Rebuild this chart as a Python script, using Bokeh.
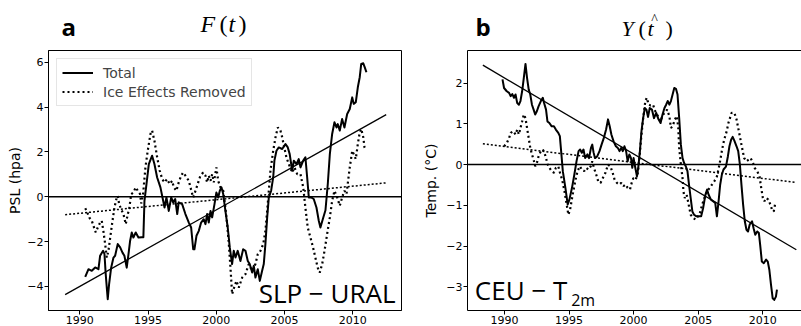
from bokeh.plotting import figure
from bokeh.models import (Range1d, Span, Label, Legend, LegendItem, LinearAxis,
                          CustomJSTickFormatter, FixedTicker)
from bokeh.layouts import row, column
from bokeh.embed import file_html
from bokeh.resources import INLINE

# ---------------- data: panel a (SLP - URAL) ----------------
a_total_years = [1990.40, 1990.64, 1990.88, 1991.13, 1991.37, 1991.49, 1991.71, 1991.81, 1991.90, 1991.98,
                 1992.05, 1992.15, 1992.30, 1992.47, 1992.59, 1992.78, 1992.96, 1993.13, 1993.27, 1993.44,
                 1993.57, 1993.69, 1993.81, 1993.93, 1994.10, 1994.30, 1994.54, 1994.66, 1994.74, 1994.89,
                 1995.06, 1995.30, 1995.47, 1995.67, 1995.91, 1996.11, 1996.21, 1996.35, 1996.52, 1996.70,
                 1996.84, 1996.99, 1997.14, 1997.25, 1997.50, 1997.74, 1997.99, 1998.16, 1998.31, 1998.40,
                 1998.55, 1998.72, 1998.89, 1999.08, 1999.21, 1999.33, 1999.45, 1999.58, 1999.70, 1999.87,
                 2000.01, 2000.14, 2000.26, 2000.38, 2000.51, 2000.67, 2000.84, 2000.99, 2001.16, 2001.28,
                 2001.41, 2001.57, 2001.77, 2001.97, 2002.14, 2002.31, 2002.45, 2002.63, 2002.75, 2002.87,
                 2003.04, 2003.19, 2003.36, 2003.48, 2003.60, 2003.73, 2003.85, 2004.02, 2004.17, 2004.26,
                 2004.41, 2004.58, 2004.83, 2005.07, 2005.24, 2005.38, 2005.56, 2005.68, 2005.88, 2006.04,
                 2006.17, 2006.37, 2006.53, 2006.66, 2006.78, 2006.95, 2007.14, 2007.34, 2007.51, 2007.63,
                 2007.83, 2008.00, 2008.17, 2008.32, 2008.49, 2008.66, 2008.81, 2008.90, 2009.05, 2009.22,
                 2009.39, 2009.59, 2009.78, 2009.96, 2010.07, 2010.22, 2010.37, 2010.51, 2010.62, 2010.77,
                 2010.88, 2011.00]
a_total_vals = [-3.57, -3.23, -3.30, -3.15, -3.23, -2.63, -2.41, -2.55, -3.44, -4.05,
                -4.57, -3.89, -3.16, -2.71, -2.63, -2.11, -2.26, -2.49, -2.63, -3.16,
                -2.56, -1.96, -1.59, -1.82, -1.59, -1.82, -1.80, -1.80, -0.18, 0.57,
                1.46, 1.83, 1.46, 0.86, 0.42, -0.18, -0.48, -0.03, -0.63, -0.03,
                -0.25, -0.10, -0.77, -0.25, -0.33, -0.77, -1.15, -1.37, -2.34, -2.34,
                -1.74, -1.52, -1.15, -1.00, -1.22, -0.77, -1.15, -0.63, -0.92, -0.33,
                0.19, -0.03, 0.27, 0.42, 0.12, -0.63, -1.37, -2.26, -3.00, -2.41,
                -2.71, -2.41, -2.86, -2.34, -2.41, -2.86, -3.00, -3.38, -3.08, -3.60,
                -3.23, -3.75, -3.30, -3.00, -2.11, -0.92, -0.03, 0.27, 0.86, 1.61,
                2.05, 2.20, 2.13, 2.35, 2.20, 1.90, 1.16, 1.61, 1.46, 1.68,
                1.31, 1.61, 1.76, 0.86, -0.03, -0.03, -0.10, -0.48, -1.07, -1.37,
                -0.95, -0.60, 0.57, 1.90, 2.80, 3.32, 3.09, 3.24, 2.95, 3.47,
                3.09, 3.69, 3.91, 4.43, 4.14, 4.21, 4.88, 5.33, 5.92, 5.95,
                5.77, 5.55]

a_ice_years = [1990.40, 1990.51, 1990.69, 1990.88, 1991.00, 1991.17, 1991.32, 1991.49, 1991.61, 1991.73,
               1991.86, 1991.98, 1992.10, 1992.23, 1992.40, 1992.54, 1992.71, 1992.78, 1992.89, 1993.03,
               1993.20, 1993.37, 1993.52, 1993.62, 1993.77, 1993.93, 1994.10, 1994.25, 1994.42, 1994.50,
               1994.64, 1994.81, 1994.98, 1995.18, 1995.30, 1995.47, 1995.67, 1995.86, 1996.04, 1996.21,
               1996.40, 1996.59, 1996.77, 1996.89, 1997.08, 1997.25, 1997.43, 1997.57, 1997.74, 1997.99,
               1998.11, 1998.31, 1998.48, 1998.64, 1998.84, 1999.04, 1999.21, 1999.33, 1999.45, 1999.58,
               1999.70, 1999.82, 2000.01, 2000.14, 2000.31, 2000.51, 2000.67, 2000.80, 2000.92, 2001.04,
               2001.16, 2001.28, 2001.48, 2001.65, 2001.90, 2002.14, 2002.38, 2002.63, 2002.87, 2003.04,
               2003.24, 2003.44, 2003.60, 2003.73, 2003.85, 2003.97, 2004.17, 2004.34, 2004.51, 2004.70,
               2004.83, 2004.95, 2005.14, 2005.31, 2005.56, 2005.73, 2005.93, 2006.17, 2006.37, 2006.53,
               2006.70, 2006.90, 2007.09, 2007.26, 2007.43, 2007.58, 2007.76, 2007.93, 2008.12, 2008.32,
               2008.49, 2008.66, 2008.86, 2009.05, 2009.22, 2009.39, 2009.54, 2009.63, 2009.78, 2009.96,
               2010.07, 2010.22, 2010.37, 2010.51, 2010.62, 2010.77, 2010.86, 2010.93]
a_ice_vals = [-0.51, -0.63, -0.92, -1.07, -1.29, -1.59, -1.37, -1.15, -1.07, -1.52,
              -2.11, -2.71, -2.41, -1.82, -1.07, -0.48, -0.03, 0.04, -0.33, -0.55,
              -0.77, -1.22, -0.77, -0.55, 0.12, 0.19, 0.42, 0.27, 0.12, -0.30,
              0.12, 1.31, 2.05, 2.80, 2.95, 2.50, 1.76, 1.16, 0.79, 0.64,
              0.79, 0.57, 0.71, 0.42, 0.27, 0.64, 0.94, 1.08, 0.94, 0.71,
              0.42, -0.03, 0.27, 0.57, 0.94, 1.08, 0.94, 0.64, 0.94, 0.71,
              1.01, 0.64, 1.31, 0.71, 0.42, 0.27, -0.48, -1.22, -2.11, -3.16,
              -4.34, -4.10, -3.75, -4.05, -3.60, -3.45, -3.00, -3.30, -3.00, -2.56,
              -2.41, -2.11, -1.52, -0.63, 0.27, 1.16, 2.05, 2.65, 3.09, 2.95,
              2.65, 2.28, 1.76, 1.46, 1.08, 1.31, 1.01, 1.01, 0.42, -0.48,
              -1.37, -1.82, -2.26, -2.71, -3.16, -3.38, -3.00, -2.41, -1.67, -0.92,
              -0.18, 0.27, -0.03, -0.40, -0.03, 0.27, 0.12, 0.57, 1.31, 2.05,
              1.90, 1.68, 2.35, 2.87, 3.02, 2.65, 2.20, 2.13]

a_trend_years = [1988.93, 2012.45]
a_trend_total = [-4.36, 3.66]
a_trend_ice = [-0.80, 0.62]

# ---------------- data: panel b (CEU - T2m) ----------------
b_total_years = [1989.85, 1989.97, 1990.18, 1990.36, 1990.48, 1990.61, 1990.74, 1990.86, 1990.99, 1991.12,
                 1991.24, 1991.37, 1991.50, 1991.63, 1991.75, 1991.88, 1992.00, 1992.13, 1992.26, 1992.38,
                 1992.51, 1992.64, 1992.82, 1992.97, 1993.07, 1993.22, 1993.33, 1993.48, 1993.66, 1993.83,
                 1993.98, 1994.17, 1994.29, 1994.39, 1994.52, 1994.72, 1994.90, 1995.03, 1995.23, 1995.41,
                 1995.58, 1995.74, 1995.86, 1995.99, 1996.12, 1996.25, 1996.42, 1996.55, 1996.70, 1996.80,
                 1996.90, 1997.01, 1997.18, 1997.36, 1997.52, 1997.69, 1997.87, 1998.02, 1998.15, 1998.28,
                 1998.45, 1998.63, 1998.78, 1998.91, 1999.04, 1999.16, 1999.29, 1999.42, 1999.54, 1999.67,
                 1999.80, 1999.90, 2000.00, 2000.11, 2000.26, 2000.36, 2000.49, 2000.61, 2000.74, 2000.87,
                 2000.99, 2001.12, 2001.25, 2001.42, 2001.58, 2001.75, 2001.93, 2002.09, 2002.24, 2002.39,
                 2002.52, 2002.64, 2002.77, 2002.89, 2003.02, 2003.15, 2003.28, 2003.40, 2003.53, 2003.66,
                 2003.79, 2003.91, 2004.04, 2004.17, 2004.29, 2004.42, 2004.55, 2004.68, 2004.87, 2005.06,
                 2005.23, 2005.38, 2005.56, 2005.69, 2005.81, 2005.99, 2006.15, 2006.32, 2006.45, 2006.58,
                 2006.70, 2006.83, 2006.96, 2007.15, 2007.30, 2007.42, 2007.55, 2007.67, 2007.80, 2007.97,
                 2008.10, 2008.23, 2008.35, 2008.48, 2008.61, 2008.74, 2008.86, 2008.99, 2009.17, 2009.29,
                 2009.42, 2009.57, 2009.70, 2009.80, 2009.93, 2010.08, 2010.26, 2010.39, 2010.51, 2010.64,
                 2010.77, 2010.89, 2011.02, 2011.10]
b_total_vals = [2.09, 1.88, 1.80, 1.76, 1.68, 1.73, 1.64, 1.72, 1.51, 1.47,
                1.56, 1.80, 2.13, 2.47, 2.13, 1.84, 1.72, 1.47, 1.35, 1.23,
                1.31, 1.43, 1.56, 1.64, 1.51, 1.35, 1.06, 1.02, 0.94, 0.94,
                0.86, 0.78, 0.70, 0.33, -0.16, -0.57, -0.98, -0.86, -0.57, -0.25,
                0.08, 0.33, 0.37, 0.29, 0.37, 0.16, 0.25, 0.16, 0.41, 0.49,
                0.30, 0.16, 0.20, 0.33, 0.49, 0.65, 0.86, 1.11, 0.94, 0.74,
                0.57, 0.45, 0.41, 0.33, 0.41, 0.33, 0.45, 0.33, 0.08, 0.25,
                0.16, -0.08, 0.16, -0.04, -0.29, -0.08, 0.33, 0.82, 1.14, 1.39,
                1.35, 1.17, 1.39, 1.35, 1.14, 1.27, 1.11, 1.02, 1.23, 1.39,
                1.47, 1.56, 1.47, 1.56, 1.72, 1.88, 1.86, 1.72, 1.14, 0.49,
                0.16, 0.04, -0.04, -0.16, -0.49, -0.82, -1.15, -1.23, -1.27, -1.27,
                -1.27, -1.07, -0.74, -0.61, -0.74, -0.86, -0.90, -0.94, -1.27, -0.90,
                -0.50, -0.25, -0.12, -0.05, 0.20, 0.45, 0.61, 0.68, 0.59, 0.45,
                0.33, 0.00, -0.49, -0.98, -1.39, -1.60, -1.64, -1.47, -1.39, -1.56,
                -1.72, -1.64, -1.68, -1.97, -2.38, -2.42, -2.33, -2.38, -2.58, -2.95,
                -3.28, -3.32, -3.24, -3.07]

b_ice_years = [1989.98, 1990.18, 1990.36, 1990.48, 1990.69, 1990.86, 1990.99, 1991.12, 1991.24, 1991.37,
               1991.50, 1991.63, 1991.75, 1991.88, 1992.00, 1992.13, 1992.26, 1992.38, 1992.51, 1992.64,
               1992.82, 1992.97, 1993.10, 1993.22, 1993.35, 1993.48, 1993.66, 1993.83, 1993.98, 1994.17,
               1994.34, 1994.47, 1994.65, 1994.82, 1994.95, 1995.08, 1995.28, 1995.48, 1995.66, 1995.84,
               1995.99, 1996.17, 1996.34, 1996.50, 1996.68, 1996.80, 1996.93, 1997.11, 1997.26, 1997.44,
               1997.62, 1997.82, 1998.02, 1998.20, 1998.38, 1998.53, 1998.71, 1998.89, 1999.04, 1999.21,
               1999.39, 1999.54, 1999.72, 1999.85, 1999.98, 2000.15, 2000.31, 2000.43, 2000.56, 2000.74,
               2000.91, 2001.02, 2001.17, 2001.32, 2001.50, 2001.68, 2001.88, 2002.09, 2002.26, 2002.44,
               2002.59, 2002.77, 2002.89, 2003.02, 2003.20, 2003.35, 2003.46, 2003.53, 2003.66, 2003.79,
               2003.86, 2003.96, 2004.11, 2004.29, 2004.42, 2004.62, 2004.80, 2004.98, 2005.13, 2005.31,
               2005.48, 2005.69, 2005.89, 2006.07, 2006.25, 2006.45, 2006.65, 2006.83, 2007.01, 2007.21,
               2007.34, 2007.59, 2007.80, 2007.97, 2008.15, 2008.35, 2008.56, 2008.74, 2008.91, 2009.06,
               2009.25, 2009.37, 2009.57, 2009.75, 2009.88, 2010.01, 2010.13, 2010.26, 2010.43, 2010.59,
               2010.72, 2010.85, 2010.95]
b_ice_vals = [0.45, 0.53, 0.65, 0.78, 0.82, 0.74, 0.86, 0.74, 0.90, 1.06,
              1.23, 1.14, 0.90, 0.65, 0.41, 0.25, 0.12, -0.04, 0.04, 0.20,
              0.33, 0.37, 0.29, 0.16, 0.00, -0.08, -0.16, -0.20, -0.08, -0.04,
              -0.25, -0.37, -0.66, -0.98, -1.23, -1.11, -0.74, -0.41, -0.16, -0.04,
              -0.12, -0.16, -0.08, -0.12, -0.04, 0.08, -0.08, -0.25, -0.41, -0.45,
              -0.33, -0.20, 0.00, -0.04, -0.20, -0.37, -0.45, -0.49, -0.45, -0.53,
              -0.49, -0.57, -0.61, -0.45, -0.33, -0.37, -0.25, 0.08, 0.57, 1.14,
              1.56, 1.64, 1.47, 1.45, 1.47, 1.31, 1.19, 1.06, 1.23, 1.27,
              1.35, 1.19, 0.90, 0.94, 1.11, 1.19, 0.90, 0.41, 0.00, -0.33,
              -0.66, -0.82, -0.74, -1.02, -1.23, -1.31, -1.35, -1.27, -1.19, -0.98,
              -0.82, -0.66, -0.57, -0.49, -0.41, -0.29, 0.00, 0.33, 0.61, 0.82,
              1.02, 1.27, 1.27, 1.11, 0.82, 0.49, 0.16, 0.08, 0.12, 0.16,
              0.04, -0.08, -0.16, -0.29, -0.57, -0.82, -0.90, -0.82, -0.86, -0.98,
              -1.11, -1.15, -0.98]

b_trend_years = [1988.33, 2012.60]
b_trend_total = [2.44, -2.09]
b_trend_ice = [0.51, -0.44]

x_ticks = [1990, 1995, 2000, 2005, 2010]
a_y_ticks = [-4, -2, 0, 2, 4, 6]
b_y_ticks = [-3, -2, -1, 0, 1, 2]

TICK_FONT = "DejaVu Sans"
MATH_FONT = "Liberation Serif"
minus_fmt = "return (tick < 0 ? '\\u2212' : '') + Math.abs(tick);"

HEAD_H = 46      # header strip holding panel letters and titles
MAIN_H = 280


def style_axes(p, yticks, ylabel, label_standoff):
    p.xaxis.ticker = FixedTicker(ticks=x_ticks)
    p.yaxis.ticker = FixedTicker(ticks=yticks)
    p.yaxis.formatter = CustomJSTickFormatter(code=minus_fmt)
    for ax in (p.xaxis, p.yaxis):
        ax.major_tick_out = 4
        ax.major_tick_in = 0
        ax.minor_tick_out = 0
        ax.minor_tick_in = 0
        ax.major_label_standoff = 1
        ax.major_label_text_font = TICK_FONT
        ax.major_label_text_font_size = "11px"
        ax.major_label_text_color = "black"
        ax.axis_line_color = "black"
        ax.major_tick_line_color = "black"
    p.yaxis.axis_label = ylabel
    p.yaxis.axis_label_text_font = TICK_FONT
    p.yaxis.axis_label_text_font_size = "14px"
    p.yaxis.axis_label_text_font_style = "normal"
    p.yaxis.axis_label_text_color = "black"
    p.yaxis.axis_label_standoff = label_standoff
    p.xgrid.visible = False
    p.ygrid.visible = False


def draw_series(p, ty, tv, iy, iv, try_, trt, tri):
    r_tot = p.line(ty, tv, line_color="black", line_width=2, line_join="round")
    r_ice = p.line(iy, iv, line_color="black", line_width=2.2, line_dash="2 3")
    p.line(try_, trt, line_color="black", line_width=1.3)
    p.line(try_, tri, line_color="black", line_width=1.5, line_dash="2 2")
    p.add_layout(Span(location=0, dimension="width", line_color="black", line_width=1.5))
    return r_tot, r_ice


def txt(p, x, y, s, font, size, style="normal", align="left"):
    p.add_layout(Label(x=x, y=y, text=s, text_font=font, text_font_size=size,
                       text_font_style=style, text_color="black",
                       text_baseline="middle", text_align=align))


# ---------------- header strip (panel letters + titles) ----------------
head = figure(width=801, height=HEAD_H, output_backend="svg", toolbar_location=None,
              x_range=Range1d(0, 801), y_range=Range1d(HEAD_H, 0),
              x_axis_type=None, y_axis_type=None,
              min_border_left=0, min_border_right=0, min_border_top=0, min_border_bottom=0)
head.outline_line_color = None
head.xgrid.visible = False
head.ygrid.visible = False
txt(head, 61, 25.7, "a", "Open Sans", "24px", "bold")
txt(head, 475, 25.7, "b", "Open Sans", "24px", "bold")
# F(t): italic letters, upright parentheses (math style)
txt(head, 200, 23.4, "F", MATH_FONT, "24px", "italic")
txt(head, 219, 23.4, "(", MATH_FONT, "24px")
txt(head, 228, 23.4, "t", MATH_FONT, "24px", "italic")
txt(head, 238, 23.4, ")", MATH_FONT, "24px")
# Y-hat(t): slightly lower baseline, hat above the t
txt(head, 621, 27.6, "Y", MATH_FONT, "22px", "italic")
txt(head, 638, 27.6, "(", MATH_FONT, "22px")
txt(head, 647, 27.6, "t", MATH_FONT, "22px", "italic")
txt(head, 665, 27.6, ")", MATH_FONT, "22px")
txt(head, 654, 19, "^", MATH_FONT, "14px", "normal", "center")

# ---------------- panel a ----------------
xa0, xa1 = 1987.71, 2013.57
ya0, ya1 = -5.07, 6.52
pa = figure(width=420, height=MAIN_H, output_backend="svg", toolbar_location=None,
            x_range=Range1d(xa0, xa1), y_range=Range1d(ya0, ya1),
            min_border_left=48, min_border_right=19, min_border_top=4, min_border_bottom=16)
pa.outline_line_color = "black"
pa.outline_line_width = 1
style_axes(pa, a_y_ticks, "PSL (hpa)", 1)
ra_tot, ra_ice = draw_series(pa, a_total_years, a_total_vals, a_ice_years, a_ice_vals,
                             a_trend_years, a_trend_total, a_trend_ice)

legend = Legend(items=[LegendItem(label="Total", renderers=[ra_tot]),
                       LegendItem(label="Ice Effects Removed", renderers=[ra_ice])],
                location="top_left", label_text_font=TICK_FONT, label_text_font_size="14px",
                glyph_width=31, glyph_height=17, label_height=17, label_standoff=10,
                spacing=2, padding=5, margin=8, border_line_color="#cccccc",
                border_line_width=1, background_fill_alpha=0.8)
pa.add_layout(legend)

sx_a = (xa1 - xa0) / 353.0
sy_a = (ya1 - ya0) / 260.0
txt(pa, xa0 + 347 * sx_a, ya0 + 17.1 * sy_a, "SLP \u2212 URAL", "Open Sans", "26px", align="right")

# ---------------- panel b ----------------
xb0, xb1 = 1987.14, 2013.0
yb0, yb1 = -3.58, 2.80
pb = figure(width=381, height=MAIN_H, output_backend="svg", toolbar_location=None,
            x_range=Range1d(xb0, xb1), y_range=Range1d(yb0, yb1),
            min_border_left=41, min_border_right=0, min_border_top=4, min_border_bottom=16)
pb.outline_line_color = None
style_axes(pb, b_y_ticks, "Temp. (\u00b0C)", 4)
top_axis = LinearAxis(ticker=FixedTicker(ticks=[]), major_label_text_font_size="0px",
                      major_tick_out=0, major_tick_in=0, minor_tick_out=0, minor_tick_in=0,
                      major_label_standoff=0, axis_line_color="black")
pb.add_layout(top_axis, "above")
draw_series(pb, b_total_years, b_total_vals, b_ice_years, b_ice_vals,
            b_trend_years, b_trend_total, b_trend_ice)

sx_b = (xb1 - xb0) / 340.0
sy_b = (yb1 - yb0) / 260.0
txt(pb, xb0 + 7.5 * sx_b, yb0 + 20.1 * sy_b, "CEU \u2212 T", "Open Sans", "26px")
txt(pb, xb0 + 105.5 * sx_b, yb0 + 10.6 * sy_b, "2m", "Open Sans", "16px")

layout = column(head, row(pa, pb))
open("out.html", "w").write(file_html(layout, INLINE))
